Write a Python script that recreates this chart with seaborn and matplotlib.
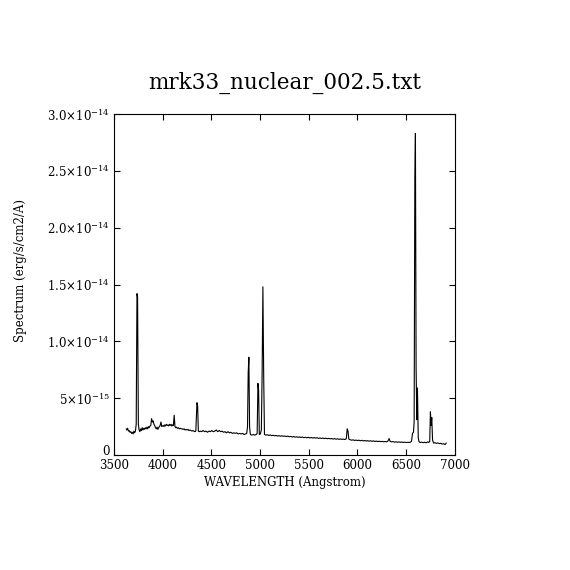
"""
Spectrum plot of mrk33_nuclear_002.5.txt, redrawn with seaborn.
"""

import numpy as np
import pandas as pd
import matplotlib
matplotlib.use("Agg")
import matplotlib.pyplot as plt
import seaborn as sns

# ── Data (flux in units of 1e-15 erg/s/cm2/A) ────────────────────────────────
FLUX_UNIT = 1e-15

wave = [
    3625, 3632, 3640, 3648, 3656, 3664, 3672, 3680, 3688, 3696,
    3704, 3712, 3720, 3728, 3736, 3742, 3750, 3758, 3766, 3774,
    3782, 3790, 3798, 3806, 3814, 3822, 3830, 3838, 3846, 3854,
    3862, 3870, 3878, 3886, 3894, 3902, 3910, 3918, 3926, 3934,
    3942, 3950, 3958, 3966, 3974, 3982, 3990, 3998, 4006, 4014,
    4022, 4030, 4038, 4046, 4054, 4062, 4070, 4078, 4086, 4094,
    4102, 4110, 4118, 4126, 4134, 4142, 4150, 4160, 4170, 4180,
    4190, 4200, 4210, 4220, 4230, 4240, 4250, 4260, 4270, 4280,
    4290, 4300, 4310, 4320, 4330, 4340, 4352, 4359, 4366, 4376,
    4388, 4400, 4415, 4430, 4445, 4460, 4475, 4490, 4505, 4520,
    4535, 4550, 4565, 4580, 4595, 4610, 4625, 4640, 4655, 4670,
    4685, 4700, 4715, 4730, 4745, 4760, 4775, 4790, 4805, 4820,
    4835, 4850, 4863, 4871, 4878, 4885, 4892, 4900, 4915, 4930,
    4945, 4960, 4970, 4978, 4985, 4992, 5003, 5013, 5021, 5029,
    5037, 5045, 5060, 5075, 5090, 5105, 5120, 5135, 5150, 5165,
    5180, 5195, 5210, 5225, 5240, 5255, 5270, 5285, 5300, 5315,
    5330, 5345, 5360, 5375, 5390, 5405, 5420, 5435, 5450, 5465,
    5480, 5495, 5510, 5525, 5540, 5555, 5570, 5585, 5600, 5615,
    5630, 5645, 5660, 5675, 5690, 5705, 5720, 5735, 5750, 5765,
    5780, 5795, 5810, 5825, 5840, 5855, 5870, 5885, 5895, 5903,
    5911, 5925, 5940, 5955, 5970, 5985, 6000, 6015, 6030, 6045,
    6060, 6075, 6090, 6105, 6120, 6135, 6150, 6165, 6180, 6195,
    6210, 6225, 6240, 6255, 6270, 6285, 6300, 6315, 6325, 6335,
    6350, 6365, 6380, 6395, 6410, 6425, 6440, 6455, 6470, 6485,
    6500, 6515, 6530, 6545, 6555, 6565, 6575, 6582, 6589, 6595,
    6602, 6609, 6616, 6624, 6633, 6645, 6660, 6675, 6690, 6705,
    6720, 6732, 6742, 6749, 6756, 6763, 6771, 6782, 6795, 6810,
    6825, 6840, 6855, 6870, 6885, 6900, 6912,
]

flux = [
    2.30, 2.20, 2.35, 2.10, 2.15, 2.00, 2.05, 1.90, 2.00, 1.85,
    2.10, 1.95, 2.10, 2.70, 14.2, 13.9, 2.70, 2.20, 2.05, 2.30,
    2.15, 2.40, 2.20, 2.35, 2.25, 2.40, 2.30, 2.45, 2.30, 2.50,
    2.40, 2.55, 2.60, 3.20, 2.90, 3.00, 2.70, 2.60, 2.40, 2.30,
    2.45, 2.25, 2.40, 2.50, 2.60, 2.90, 2.50, 2.55, 2.60, 2.50,
    2.65, 2.55, 2.70, 2.60, 2.65, 2.55, 2.70, 2.60, 2.70, 2.55,
    2.65, 2.60, 3.50, 2.50, 2.40, 2.45, 2.35, 2.40, 2.30, 2.35,
    2.30, 2.30, 2.25, 2.30, 2.20, 2.25, 2.20, 2.25, 2.15, 2.20,
    2.15, 2.10, 2.15, 2.10, 2.05, 2.10, 4.60, 4.30, 2.10, 2.05,
    2.10, 2.05, 2.15, 2.05, 2.10, 2.00, 2.10, 2.05, 2.15, 2.05,
    2.10, 2.20, 2.05, 2.15, 2.05, 2.10, 2.00, 2.05, 1.95, 2.05,
    1.95, 2.00, 1.90, 1.95, 1.90, 1.95, 1.85, 1.90, 1.85, 1.90,
    1.80, 1.85, 1.90, 2.50, 7.30, 8.60, 2.50, 1.80, 1.75, 1.80,
    1.75, 1.80, 1.90, 6.30, 5.70, 1.80, 1.85, 2.20, 7.20, 14.8,
    7.00, 1.80, 1.75, 1.78, 1.72, 1.76, 1.70, 1.74, 1.68, 1.72,
    1.66, 1.70, 1.65, 1.69, 1.64, 1.67, 1.62, 1.66, 1.60, 1.64,
    1.58, 1.62, 1.57, 1.60, 1.55, 1.59, 1.54, 1.58, 1.52, 1.56,
    1.51, 1.55, 1.50, 1.54, 1.49, 1.53, 1.48, 1.52, 1.46, 1.50,
    1.45, 1.49, 1.44, 1.48, 1.43, 1.46, 1.42, 1.45, 1.40, 1.44,
    1.39, 1.42, 1.38, 1.41, 1.37, 1.40, 1.36, 1.42, 2.30, 2.10,
    1.40, 1.34, 1.30, 1.33, 1.28, 1.31, 1.27, 1.30, 1.25, 1.29,
    1.24, 1.27, 1.23, 1.26, 1.21, 1.25, 1.20, 1.24, 1.19, 1.22,
    1.18, 1.21, 1.17, 1.20, 1.16, 1.19, 1.15, 1.25, 1.45, 1.20,
    1.15, 1.18, 1.13, 1.16, 1.12, 1.15, 1.11, 1.14, 1.10, 1.13,
    1.09, 1.12, 1.10, 1.13, 1.20, 1.90, 2.00, 2.90, 24.3, 28.3,
    7.70, 3.10, 5.90, 1.50, 1.15, 1.10, 1.13, 1.08, 1.12, 1.07,
    1.15, 1.10, 1.20, 3.80, 2.60, 3.30, 1.30, 1.05, 1.08, 1.02,
    1.06, 1.00, 1.03, 0.96, 0.99, 0.92, 1.05,
]

# ── Axis ticks / labels ───────────────────────────────────────────────────────
x_ticks     = [3500, 4000, 4500, 5000, 5500, 6000, 6500, 7000]
y_ticks     = [0, 5e-15, 1.0e-14, 1.5e-14, 2.0e-14, 2.5e-14, 3.0e-14]
y_ticklabs  = ["0", "5×10$^{-15}$", "1.0×10$^{-14}$", "1.5×10$^{-14}$",
               "2.0×10$^{-14}$", "2.5×10$^{-14}$", "3.0×10$^{-14}$"]
title_txt   = "mrk33_nuclear_002.5.txt"
x_label     = "WAVELENGTH (Angstrom)"
y_label     = "Spectrum (erg/s/cm2/A)"

df = pd.DataFrame({"wave": wave, "flux": np.array(flux) * FLUX_UNIT})

# ── Style ─────────────────────────────────────────────────────────────────────
sns.set_style("ticks")
plt.rcParams["font.family"] = ["DejaVu Serif"]
plt.rcParams["mathtext.fontset"] = "dejavuserif"
plt.rcParams["text.color"] = "black"
plt.rcParams["axes.labelcolor"] = "black"

fig = plt.figure(figsize=(5.7, 5.7), dpi=100)
ax = fig.add_axes([0.2, 0.2018, 0.598, 0.598])

sns.lineplot(data=df, x="wave", y="flux", ax=ax, color="black",
             linewidth=0.8, sort=False, estimator=None)

ax.set_xlim(3500, 7000)
ax.set_ylim(0, 3.0e-14)
ax.set_xticks(x_ticks)
ax.set_xticklabels([str(t) for t in x_ticks])
ax.set_yticks(y_ticks)
ax.set_yticklabels(y_ticklabs)
ax.minorticks_off()

for sp in ax.spines.values():
    sp.set_visible(True)
    sp.set_linewidth(0.8)
    sp.set_color("black")

ax.tick_params(axis="both", which="major", direction="in", length=4.5,
               width=0.8, colors="black", labelsize=8.5, pad=3,
               top=True, right=True)

# "0" sits on the bottom axis line, clear of the "3500" label
ax.get_yticklabels()[0].set_verticalalignment("baseline")

ax.set_title(title_txt, fontsize=15.5, pad=18, color="black")
ax.set_xlabel(x_label, fontsize=8.5, labelpad=3)
ax.set_ylabel(y_label, fontsize=8.5)
ax.yaxis.set_label_coords(-0.255, 0.54)

fig.savefig("out.png", dpi=100, facecolor="white")
